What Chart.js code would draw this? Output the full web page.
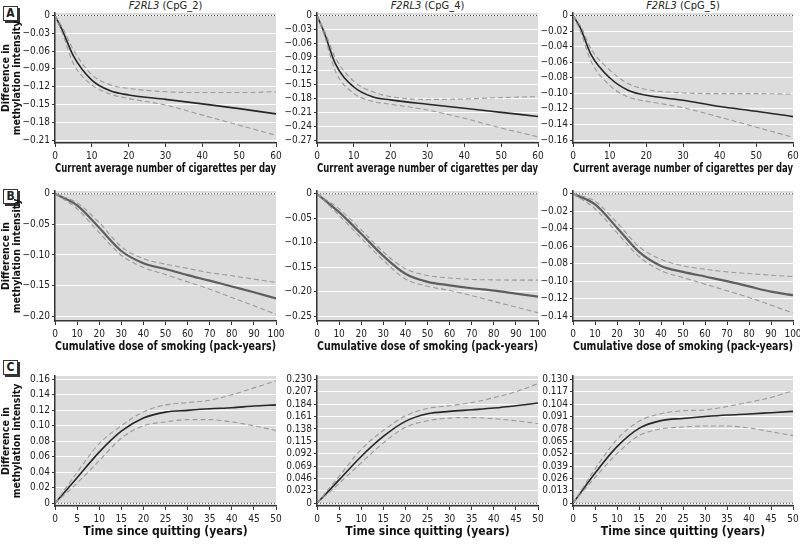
<!DOCTYPE html>
<html>
<head>
<meta charset="utf-8">
<script src="https://cdn.jsdelivr.net/npm/chart.js@4"></script>
<style>
  body { margin: 0; background: #fff; }
  #fig { position: relative; width: 800px; height: 545px; overflow: hidden;
         font-family: 'Liberation Sans Narrow', 'DejaVu Sans Condensed', sans-serif; color: #222; }
  #fig canvas { position: absolute; }
  .head { position: absolute; top: -1px; width: 220px; font-size: 11px; text-align: center; }
  .tag { position: absolute; left: 3px; width: 13px; height: 13px; border: 1px solid #333;
         box-shadow: 2px 2px 0 #333; font-weight: bold; font-size: 12px; line-height: 13px;
         text-align: center; background: #fff; }
</style>
</head>
<body>
<div id="fig"></div>
<script>
// --- x values & tick labels --------------------------------
const cigX = [0, 2, 5, 10, 15, 20, 30, 40, 50, 60];
const packX = [0, 10, 20, 30, 40, 50, 60, 70, 80, 90, 100];
const quitX = [0, 5, 10, 15, 20, 25, 30, 35, 40, 45, 50];

const cigTicks = ['0', '10', '20', '30', '40', '50', '60'];
const packTicks = ['0', '10', '20', '30', '40', '50', '60', '70', '80', '90', '100'];
const quitTicks = ['0', '5', '10', '15', '20', '25', '30', '35', '40', '45', '50'];

const xTitles = [
  'Current average number of cigarettes per day',
  'Cumulative dose of smoking (pack-years)',
  'Time since quitting (years)'
];
const sites = ['CpG_2', 'CpG_4', 'CpG_5'];

// --- y tick labels -----------------------------------------
const yTicksA2 = ['0', '−0.03', '−0.06', '−0.09', '−0.12', '−0.15', '−0.18', '−0.21'];
const yTicksA4 = ['0', '−0.03', '−0.06', '−0.09', '−0.12', '−0.15', '−0.18', '−0.21', '−0.24', '−0.27'];
const yTicksA5 = ['0', '−0.02', '−0.04', '−0.06', '−0.08', '−0.10', '−0.12', '−0.14', '−0.16'];
const yTicksB2 = ['0', '−0.05', '−0.10', '−0.15', '−0.20'];
const yTicksB4 = ['0', '−0.05', '−0.10', '−0.15', '−0.20', '−0.25'];
const yTicksB5 = ['0', '−0.02', '−0.04', '−0.06', '−0.08', '−0.10', '−0.12', '−0.14'];
const yTicksC2 = ['0', '0.02', '0.04', '0.06', '0.08', '0.10', '0.12', '0.14', '0.16'];
const yTicksC4 = ['0', '0.023', '0.046', '0.069', '0.092', '0.115', '0.138', '0.161', '0.184', '0.207', '0.230'];
const yTicksC5 = ['0', '0.013', '0.026', '0.039', '0.052', '0.065', '0.078', '0.091', '0.104', '0.117', '0.130'];

// --- A: cigarettes per day ---------------------------------
const a2Fit   = [0, -0.025, -0.068, -0.109, -0.127, -0.134, -0.1415, -0.149, -0.157, -0.166];
const a2Upper = [0, -0.020, -0.058, -0.100, -0.117, -0.123, -0.1285, -0.130, -0.130, -0.1285];
const a2Lower = [0, -0.030, -0.081, -0.117, -0.1325, -0.140, -0.151, -0.168, -0.185, -0.202];

const a4Fit   = [0, -0.038, -0.105, -0.155, -0.176, -0.183, -0.1925, -0.201, -0.210, -0.219];
const a4Upper = [0, -0.033, -0.092, -0.143, -0.165, -0.176, -0.182, -0.181, -0.178, -0.176];
const a4Lower = [0, -0.043, -0.121, -0.169, -0.186, -0.1925, -0.205, -0.223, -0.244, -0.263];

const a5Fit   = [0, -0.016, -0.051, -0.080, -0.096, -0.1026, -0.109, -0.117, -0.123, -0.130];
const a5Upper = [0, -0.013, -0.0435, -0.070, -0.0875, -0.095, -0.0995, -0.1004, -0.1004, -0.101];
const a5Lower = [0, -0.020, -0.0595, -0.0897, -0.1047, -0.110, -0.1185, -0.1306, -0.1435, -0.1565];

// --- B: pack-years -----------------------------------------
const b2Fit   = [0, -0.019, -0.0555, -0.0935, -0.1135, -0.123, -0.133, -0.142, -0.1515, -0.161, -0.171];
const b2Upper = [0, -0.0147, -0.047, -0.0865, -0.106, -0.115, -0.122, -0.129, -0.134, -0.1395, -0.145];
const b2Lower = [0, -0.0245, -0.0636, -0.1005, -0.1205, -0.132, -0.144, -0.156, -0.1695, -0.183, -0.197];

const b4Fit   = [0, -0.0375, -0.0817, -0.127, -0.1635, -0.180, -0.187, -0.193, -0.198, -0.204, -0.210];
const b4Upper = [0, -0.0307, -0.0736, -0.119, -0.153, -0.167, -0.172, -0.175, -0.176, -0.1765, -0.1765];
const b4Lower = [0, -0.044, -0.0906, -0.136, -0.174, -0.189, -0.1975, -0.208, -0.220, -0.2315, -0.243];

const b5Fit   = [0, -0.0122, -0.0388, -0.0665, -0.0825, -0.0894, -0.0947, -0.100, -0.106, -0.112, -0.116];
const b5Upper = [0, -0.0084, -0.033, -0.0605, -0.075, -0.0825, -0.0863, -0.0894, -0.0913, -0.0932, -0.0947];
const b5Lower = [0, -0.0171, -0.0445, -0.0719, -0.088, -0.0958, -0.1034, -0.111, -0.1186, -0.1274, -0.1365];

// --- C: years since quitting -------------------------------
const c2Fit   = [0, 0.033, 0.066, 0.093, 0.110, 0.1177, 0.120, 0.122, 0.1234, 0.1255, 0.127];
const c2Upper = [0, 0.040, 0.077, 0.100, 0.118, 0.127, 0.130, 0.133, 0.140, 0.149, 0.158];
const c2Lower = [0, 0.026, 0.055, 0.084, 0.100, 0.105, 0.108, 0.108, 0.105, 0.100, 0.094];

const c4Fit   = [0, 0.0434, 0.0868, 0.124, 0.152, 0.166, 0.1705, 0.1735, 0.1767, 0.181, 0.186];
const c4Upper = [0, 0.050, 0.100, 0.135, 0.162, 0.176, 0.181, 0.187, 0.196, 0.207, 0.222];
const c4Lower = [0, 0.037, 0.075, 0.112, 0.141, 0.153, 0.158, 0.159, 0.157, 0.153, 0.148];

const c5Fit   = [0, 0.0315, 0.0594, 0.0786, 0.0867, 0.089, 0.091, 0.0926, 0.0936, 0.095, 0.0964];
const c5Upper = [0, 0.036, 0.067, 0.086, 0.094, 0.097, 0.098, 0.1015, 0.106, 0.111, 0.118];
const c5Lower = [0, 0.027, 0.052, 0.071, 0.078, 0.080, 0.081, 0.081, 0.079, 0.075, 0.071];

// --- layout -------------------------------------------------
const FONT = "'Liberation Sans Narrow', 'DejaVu Sans Condensed', sans-serif";
const cols = [{ left: 55, w: 221 }, { left: 317, w: 221 }, { left: 573, w: 220 }];
const rows = [
  { top: 13, h: 130, letter: 'A', tagTop: 6, fit: '#262626', fitW: 1.6, pad: [0.02, 0.024] },
  { top: 191, h: 130, letter: 'B', tagTop: 189, fit: '#5e5e5e', fitW: 2.2, pad: [0.023, 0.04] },
  { top: 376, h: 130, letter: 'C', tagTop: 360, fit: '#262626', fitW: 1.6, pad: [0.027, 0.022] }
];
const PT = 8, PR = 12, XH = 33;

const panels = [
  { r: 0, c: 0, x: cigX, xt: cigTicks, yt: yTicksA2, fit: a2Fit, up: a2Upper, lo: a2Lower },
  { r: 0, c: 1, x: cigX, xt: cigTicks, yt: yTicksA4, fit: a4Fit, up: a4Upper, lo: a4Lower },
  { r: 0, c: 2, x: cigX, xt: cigTicks, yt: yTicksA5, fit: a5Fit, up: a5Upper, lo: a5Lower },
  { r: 1, c: 0, x: packX, xt: packTicks, yt: yTicksB2, fit: b2Fit, up: b2Upper, lo: b2Lower },
  { r: 1, c: 1, x: packX, xt: packTicks, yt: yTicksB4, fit: b4Fit, up: b4Upper, lo: b4Lower },
  { r: 1, c: 2, x: packX, xt: packTicks, yt: yTicksB5, fit: b5Fit, up: b5Upper, lo: b5Lower },
  { r: 2, c: 0, x: quitX, xt: quitTicks, yt: yTicksC2, fit: c2Fit, up: c2Upper, lo: c2Lower },
  { r: 2, c: 1, x: quitX, xt: quitTicks, yt: yTicksC4, fit: c4Fit, up: c4Upper, lo: c4Lower },
  { r: 2, c: 2, x: quitX, xt: quitTicks, yt: yTicksC5, fit: c5Fit, up: c5Upper, lo: c5Lower }
];

const num = s => parseFloat(s.replace('−', '-'));
const pts = (xs, ys) => xs.map((x, i) => ({ x, y: ys[i] }));

// grey plot background
const plotBg = {
  id: 'plotBg',
  beforeDraw(chart) {
    const { ctx, chartArea: a } = chart;
    ctx.save();
    ctx.fillStyle = '#dcdcdc';
    ctx.fillRect(a.left, a.top, a.width, a.height);
    ctx.restore();
  }
};

const fig = document.getElementById('fig');

// column headers + row tags
sites.forEach((s, c) => {
  const d = document.createElement('div');
  d.className = 'head';
  d.style.left = (cols[c].left + cols[c].w / 2 - 110) + 'px';
  d.innerHTML = '<i>F2RL3</i> (' + s + ')';
  fig.appendChild(d);
});
rows.forEach(r => {
  const d = document.createElement('div');
  d.className = 'tag';
  d.style.top = r.tagTop + 'px';
  d.textContent = r.letter;
  fig.appendChild(d);
});

panels.forEach(p => {
  const row = rows[p.r], col = cols[p.c];
  const YW = p.c === 0 ? col.left : 45;
  const cv = document.createElement('canvas');
  cv.width = YW + col.w + PR;
  cv.height = PT + row.h + XH;
  cv.style.left = (col.left - YW) + 'px';
  cv.style.top = (row.top - PT) + 'px';
  fig.appendChild(cv);

  const yVals = p.yt.map(num);
  const xVals = p.xt.map(num);
  const yMin = Math.min(...yVals), yMax = Math.max(...yVals);
  const span = yMax - yMin;
  const xMax = xVals[xVals.length - 1];

  const dashed = {
    borderColor: '#9a9a9a', borderWidth: 1.1, borderDash: [5, 3],
    pointRadius: 0, cubicInterpolationMode: 'monotone', fill: false
  };

  new Chart(cv, {
    type: 'line',
    data: {
      datasets: [
        { data: [{ x: 0, y: 0 }, { x: xMax, y: 0 }], borderColor: '#444', borderWidth: 1,
          borderDash: [1, 2], pointRadius: 0 },
        Object.assign({ data: pts(p.x, p.up) }, dashed),
        Object.assign({ data: pts(p.x, p.lo) }, dashed),
        { data: pts(p.x, p.fit), borderColor: row.fit, borderWidth: row.fitW,
          pointRadius: 0, cubicInterpolationMode: 'monotone' }
      ]
    },
    options: {
      responsive: false,
      animation: false,
      layout: { padding: { top: PT, right: PR, left: 0, bottom: 0 } },
      plugins: { legend: { display: false }, tooltip: { enabled: false } },
      scales: {
        x: {
          type: 'linear', min: 0, max: xMax,
          afterBuildTicks: s => { s.ticks = xVals.map(v => ({ value: v })); },
          afterFit: s => { s.height = XH; },
          grid: { drawOnChartArea: false, tickLength: 4, tickColor: '#333' },
          border: { color: '#333', width: 1.5 },
          ticks: { autoSkip: false, maxRotation: 0, padding: 3, color: '#222',
                   font: { family: FONT, size: 10 },
                   callback: (v, i) => p.xt[i] },
          title: { display: true, text: xTitles[p.r], color: '#111',
                   padding: { top: 0, bottom: 0 },
                   font: { family: FONT, size: 12, weight: 'bold' } }
        },
        y: {
          type: 'linear',
          min: yMin - span * row.pad[1], max: yMax + span * row.pad[0],
          afterBuildTicks: s => { s.ticks = yVals.map(v => ({ value: v })); },
          afterFit: s => { s.width = YW; },
          grid: { color: '#ffffff', lineWidth: 1, tickLength: 3, tickColor: '#333' },
          border: { color: '#333', width: 1.5 },
          ticks: { autoSkip: false, padding: 2, color: '#222',
                   font: { family: FONT, size: 10 },
                   callback: (v, i) => p.yt[i] },
          title: { display: p.c === 0, text: ['Difference in', 'methylation intensity'],
                   color: '#111', padding: 0,
                   font: { family: FONT, size: 10.5, weight: 'bold', lineHeight: 1.1 } }
        }
      }
    },
    plugins: [plotBg]
  });
});
</script>
</body>
</html>
